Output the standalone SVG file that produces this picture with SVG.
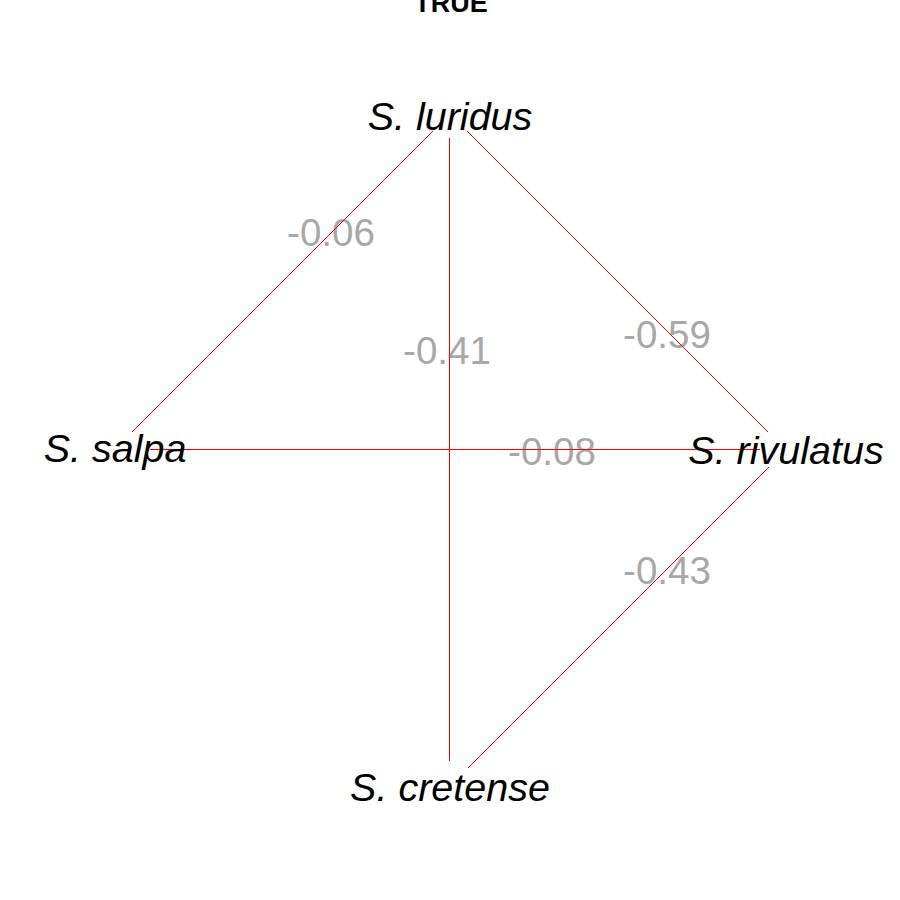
<svg xmlns="http://www.w3.org/2000/svg" width="900" height="900" viewBox="0 0 900 900">
<style>
.bg{fill:#ffffff}
.title{font-family:"Liberation Sans",Arial,sans-serif;font-weight:bold;font-size:27px;fill:#000;text-anchor:middle}
.node{font-family:"Liberation Sans",Arial,sans-serif;font-style:italic;font-size:39.5px;fill:#000;text-anchor:middle}
.elab{font-family:"Liberation Sans",Arial,sans-serif;font-size:38.5px;fill:#a8a8a8;text-anchor:middle}
.edge{stroke:#ff0000;stroke-width:1;fill:none;shape-rendering:crispEdges}
</style>
<rect class="bg" x="0" y="0" width="900" height="900"/>
<text class="title" x="451" y="12">TRUE</text>
<g id="edge-labels">
<text class="elab" x="331" y="246">-0.06</text>
<text class="elab" x="447" y="364">-0.41</text>
<text class="elab" x="667" y="348">-0.59</text>
<text class="elab" x="552" y="465">-0.08</text>
<text class="elab" x="667" y="584">-0.43</text>
</g>
<g id="connectors">
<line class="edge" x1="132" y1="432" x2="433" y2="131"/>
<line class="edge" x1="449.5" y1="138" x2="449.5" y2="761"/>
<line class="edge" x1="467" y1="131" x2="768" y2="432"/>
<line class="edge" x1="150" y1="449.5" x2="760" y2="449.5"/>
<line class="edge" x1="769" y1="467" x2="468" y2="768"/>
</g>
<g id="node-luridus"><text class="node" x="450" y="130">S. luridus</text></g>
<g id="node-salpa"><text class="node" x="115" y="462">S. salpa</text></g>
<g id="node-rivulatus"><text class="node" x="786" y="464">S. rivulatus</text></g>
<g id="node-cretense"><text class="node" x="450" y="801">S. cretense</text></g>
</svg>
